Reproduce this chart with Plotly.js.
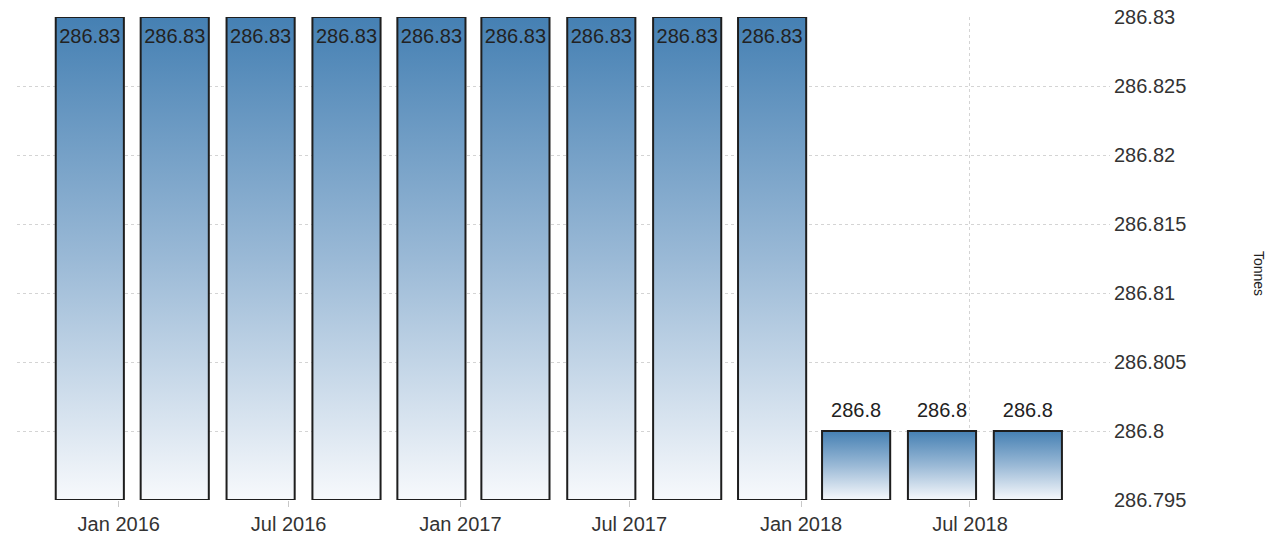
<!DOCTYPE html>
<html>
<head>
<meta charset="utf-8">
<script src="https://cdn.plot.ly/plotly-3.0.1.min.js"></script>
<style>
  html, body { margin: 0; padding: 0; background: #fff; }
  #chart { width: 1287px; height: 536px; }
</style>
</head>
<body>
<div id="chart"></div>
<script>
// Data (quarterly)
const dates = ['2015-12-01','2016-03-01','2016-06-01','2016-09-01','2016-12-01','2017-03-01',
               '2017-06-01','2017-09-01','2017-12-01','2018-03-01','2018-06-01','2018-09-01'];
const values = [286.83, 286.83, 286.83, 286.83, 286.83, 286.83,
                286.83, 286.83, 286.83, 286.8, 286.8, 286.8];
const labels = values.map(v => String(v));
const yMin = 286.795, yMax = 286.83;
const labelPos = values.map(v => v >= yMax ? 'inside' : 'outside');

const FONT = 'Liberation Sans, Arial, sans-serif';
const DAY = 86400000;

const trace = {
  type: 'bar',
  x: dates,
  y: values.map(v => v - yMin),
  base: values.map(() => yMin),
  width: values.map(() => 73 * DAY),
  text: labels,
  textposition: labelPos,
  insidetextanchor: 'end',
  constraintext: 'none',
  cliponaxis: false,
  textfont: { family: FONT, size: 20, color: '#222' },
  marker: { color: '#6f9cc7', line: { color: '#1e1e1e', width: 2 } },
  hoverinfo: 'skip'
};

const layout = {
  width: 1287, height: 536,
  margin: { l: 17, r: 177, t: 17, b: 36 },
  paper_bgcolor: '#fff', plot_bgcolor: '#fff',
  showlegend: false,
  font: { family: FONT, size: 20, color: '#333' },
  xaxis: {
    type: 'date',
    range: ['2015-09-14', '2018-11-28'],
    tick0: '2016-01-01', dtick: 'M6', tickformat: '%b %Y',
    ticks: 'outside', ticklen: 6, tickcolor: '#c8c8c8', tickwidth: 1,
    showgrid: true, gridcolor: '#d4d4d4', griddash: 'dot', gridwidth: 1,
    showline: false, zeroline: false,
    tickfont: { family: FONT, size: 20, color: '#333' }
  },
  yaxis: {
    side: 'right',
    range: [yMin, yMax],
    dtick: 0.005, tick0: yMin,
    tickformat: '.6~g',
    ticklabelstandoff: 3,
    showgrid: true, gridcolor: '#d4d4d4', griddash: 'dot', gridwidth: 1,
    showline: false, zeroline: false, ticks: '',
    tickfont: { family: FONT, size: 20, color: '#333' }
  },
  annotations: [{
    text: 'Tonnes', xref: 'paper', yref: 'paper',
    x: 1.1455, y: 0.47, showarrow: false, textangle: 90,
    font: { family: FONT, size: 14, color: '#222' }
  }]
};

Plotly.newPlot('chart', [trace], layout, { staticPlot: true }).then(gd => {
  const svg = gd.querySelector('.main-svg');
  const ns = 'http://www.w3.org/2000/svg';
  let defs = svg.querySelector('defs');
  if (!defs) { defs = document.createElementNS(ns, 'defs'); svg.insertBefore(defs, svg.firstChild); }
  const grad = document.createElementNS(ns, 'linearGradient');
  grad.setAttribute('id', 'barGrad');
  grad.setAttribute('x1', '0'); grad.setAttribute('y1', '0');
  grad.setAttribute('x2', '0'); grad.setAttribute('y2', '1');
  [['0%', '#4580b3'], ['50%', '#9ab9d6'], ['100%', '#f7f9fc']].forEach(([o, c]) => {
    const s = document.createElementNS(ns, 'stop');
    s.setAttribute('offset', o); s.setAttribute('stop-color', c);
    grad.appendChild(s);
  });
  defs.appendChild(grad);
  gd.querySelectorAll('.trace.bars .point path').forEach(p => {
    p.style.fill = 'url(#barGrad)';
  });
  // nudge bar labels slightly to match spacing of the reference
  gd.querySelectorAll('.trace.bars .point text').forEach((t, i) => {
    const dy = labelPos[i] === 'inside' ? 5 : -7;
    const tr = t.getAttribute('transform') || '';
    t.setAttribute('transform', 'translate(0,' + dy + ') ' + tr);
  });
});
</script>
</body>
</html>
